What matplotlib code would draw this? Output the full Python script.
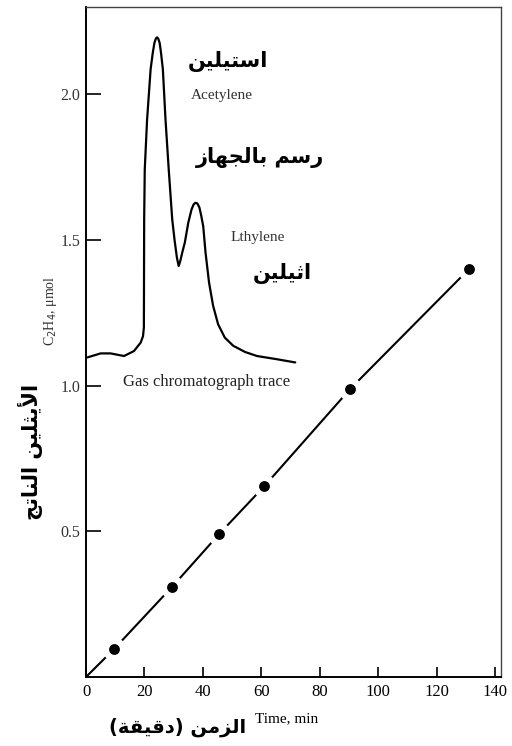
import numpy as np
import matplotlib
matplotlib.use("Agg")
import matplotlib.pyplot as plt

# ---------------- data ----------------
time_min = [9.5, 29.5, 45.5, 61, 90.5, 131]
ethylene_umol = [0.095, 0.31, 0.49, 0.655, 0.99, 1.40]
fit_x = [0] + time_min
fit_y = [0] + ethylene_umol

trace_x = [0.4, 5.0, 8.4, 13.0, 16.4, 18.7, 19.5, 19.8, 19.9, 20.1, 20.9, 22.1, 22.8,
           23.4, 23.9, 24.3, 24.7, 25.2, 25.7, 26.3, 27.2, 28.3, 29.5, 30.3, 31.1,
           31.7, 32.3, 33.0, 33.8, 35.0, 36.1, 36.8, 37.4, 38.1, 38.8, 39.4, 40.1,
           40.9, 42.1, 43.5, 45.2, 47.5, 50.4, 54.4, 58.5, 65.3, 71.6]
trace_y = [1.097, 1.111, 1.111, 1.102, 1.119, 1.148, 1.170, 1.200, 1.571, 1.743, 1.914,
           2.086, 2.140, 2.177, 2.192, 2.196, 2.192, 2.177, 2.140, 2.086, 1.914, 1.743,
           1.571, 1.500, 1.440, 1.411, 1.430, 1.460, 1.491, 1.560, 1.605, 1.622, 1.628,
           1.626, 1.612, 1.585, 1.548, 1.457, 1.354, 1.274, 1.211, 1.165, 1.137, 1.116,
           1.102, 1.091, 1.080]

x_ticks = [0, 20, 40, 60, 80, 100, 120, 140]
y_ticks = [0.5, 1.0, 1.5, 2.0]
y_tick_labels = ["0.5", "1.0", "1.5", "2.0"]

# ---------------- Arabic shaping (presentation forms, visual order) ----------------
FORMS = {
    '\u0627': ('\uFE8D', '\uFE8E', None, None),
    '\u0623': ('\uFE83', '\uFE84', None, None),
    '\u0628': ('\uFE8F', '\uFE90', '\uFE91', '\uFE92'),
    '\u0629': ('\uFE93', '\uFE94', None, None),
    '\u062A': ('\uFE95', '\uFE96', '\uFE97', '\uFE98'),
    '\u062B': ('\uFE99', '\uFE9A', '\uFE9B', '\uFE9C'),
    '\u062C': ('\uFE9D', '\uFE9E', '\uFE9F', '\uFEA0'),
    '\u062F': ('\uFEA9', '\uFEAA', None, None),
    '\u0631': ('\uFEAD', '\uFEAE', None, None),
    '\u0632': ('\uFEAF', '\uFEB0', None, None),
    '\u0633': ('\uFEB1', '\uFEB2', '\uFEB3', '\uFEB4'),
    '\u0642': ('\uFED5', '\uFED6', '\uFED7', '\uFED8'),
    '\u0644': ('\uFEDD', '\uFEDE', '\uFEDF', '\uFEE0'),
    '\u0645': ('\uFEE1', '\uFEE2', '\uFEE3', '\uFEE4'),
    '\u0646': ('\uFEE5', '\uFEE6', '\uFEE7', '\uFEE8'),
    '\u0647': ('\uFEE9', '\uFEEA', '\uFEEB', '\uFEEC'),
    '\u064A': ('\uFEF1', '\uFEF2', '\uFEF3', '\uFEF4'),
}
LAM_ALEF = {'\u0627': ('\uFEFB', '\uFEFC'), '\u0623': ('\uFEF7', '\uFEF8')}


def shape(s):
    chars = list(s)
    units = []
    i = 0
    while i < len(chars):
        c = chars[i]
        if c == '\u0644' and i + 1 < len(chars) and chars[i + 1] in LAM_ALEF:
            units.append(('LA', chars[i + 1]))
            i += 2
        else:
            units.append((c, None))
            i += 1

    def is_letter(u):
        return u[0] == 'LA' or u[0] in FORMS

    def joins_next(u):
        if u[0] == 'LA':
            return False
        f = FORMS.get(u[0])
        return f is not None and f[2] is not None

    out = []
    for k, u in enumerate(units):
        c, a = u
        prev_j = k > 0 and joins_next(units[k - 1]) and is_letter(u)
        next_j = k + 1 < len(units) and is_letter(units[k + 1]) and joins_next(u)
        if c == 'LA':
            out.append(LAM_ALEF[a][1 if prev_j else 0])
        elif c in FORMS:
            f = FORMS[c]
            if prev_j and next_j:
                out.append(f[3])
            elif prev_j:
                out.append(f[1])
            elif next_j:
                out.append(f[2])
            else:
                out.append(f[0])
        else:
            out.append(c)
    vis = ''.join(reversed(out))
    return vis.translate(str.maketrans('()', ')('))


AR = dict(family=['DejaVu Sans'], fontweight='bold', color='black')
SERIF = ['Liberation Serif', 'DejaVu Serif']

# ---------------- figure ----------------
fig = plt.figure(figsize=(5.12, 7.46), dpi=100)
ax = fig.add_axes([0.168, 0.0925, 0.8105, 0.898])
ax.set_xlim(0, 142)
ax.set_ylim(0, 2.30)

# gas chromatograph trace
ax.plot(trace_x, trace_y, color='black', lw=1.6, zorder=2,
        solid_joinstyle='round', solid_capstyle='round')

# fitted line with gaps around the data points
ax.plot(fit_x, fit_y, color='black', lw=1.5, zorder=2)
ax.plot(time_min, ethylene_umol, 'o', ms=17, color='white', mec='none', zorder=3)
ax.plot(time_min, ethylene_umol, 'o', ms=7.8, color='black', mec='none', zorder=4)

# ticks
ax.set_xticks(x_ticks)
ax.set_xticklabels([str(v) for v in x_ticks], family=SERIF, fontsize=12)
ax.set_yticks(y_ticks)
ax.set_yticklabels(y_tick_labels, family=SERIF, fontsize=11.5, color='#333333')
ax.tick_params(axis='y', direction='in', length=11, width=1.2, pad=4)
ax.tick_params(axis='x', direction='in', length=7, width=1.2, pad=5)
for side in ['left', 'bottom']:
    ax.spines[side].set_linewidth(1.4)
for side in ['top', 'right']:
    ax.spines[side].set_linewidth(1.0)
    ax.spines[side].set_color('#444444')

# annotations inside the plot
ax.text(48.5, 2.113, shape('استيلين'), fontsize=15, ha='center', va='center', **AR)
ax.text(46.5, 1.997, 'Acetylene', family=SERIF, fontsize=11, ha='center', va='center', color='#333333')
ax.text(59.5, 1.784, shape('رسم بالجهاز'), fontsize=15, ha='center', va='center', **AR)
ax.text(58.8, 1.509, 'Lthylene', family=SERIF, fontsize=11, ha='center', va='center', color='#333333')
ax.text(67.0, 1.386, shape('اثيلين'), fontsize=15, ha='center', va='center', **AR)
ax.text(41.4, 1.012, 'Gas chromatograph trace', family=SERIF, fontsize=12,
        ha='center', va='center', color='#222222')

# axis labels
fig.text(0.0977, 0.584, r'C$_2$H$_4$, μmol', family=SERIF, fontsize=10,
         rotation=90, ha='center', va='center', color='#333333')
fig.text(0.0586, 0.394, shape('الأيثلين الناتج'), rotation=90, fontsize=15,
         ha='center', va='center', **AR)
fig.text(0.3477, 0.0255, shape('الزمن (دقيقة)'), fontsize=14, ha='center', va='center', **AR)
fig.text(0.5605, 0.037, 'Time, min', family=SERIF, fontsize=11, ha='center', va='center')

fig.savefig('out.png', dpi=100)
